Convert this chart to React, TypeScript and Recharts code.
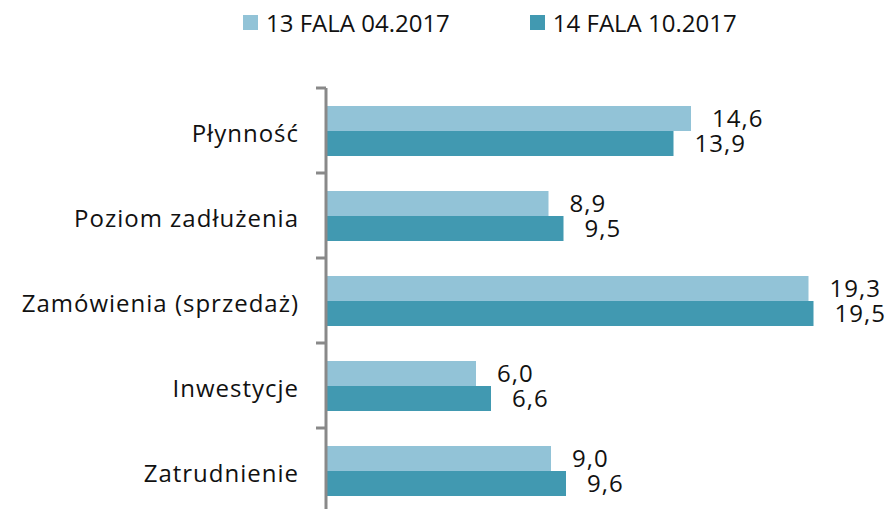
import { BarChart, Bar, XAxis, YAxis, Legend, LabelList } from 'recharts';

const categories = ['Płynność', 'Poziom zadłużenia', 'Zamówienia (sprzedaż)', 'Inwestycje', 'Zatrudnienie'];
const wave13 = [14.6, 8.9, 19.3, 6.0, 9.0];
const wave14 = [13.9, 9.5, 19.5, 6.6, 9.6];
const seriesNames = ['13 FALA 04.2017', '14 FALA 10.2017'];

const LIGHT = '#92C3D7';
const DARK = '#4199B1';
const AXIS = '#898989';
const FONT = '"Open Sans", sans-serif';

const data = categories.map((name, i) => ({ name, w13: wave13[i], w14: wave14[i] }));

const fmt = (v: number) => v.toFixed(1).replace('.', ',');

// category label plus the tick marks that sit on the band boundaries
function CatTick(props: any) {
  const { x, y, payload, index } = props;
  const half = payload && typeof payload.offset === 'number' && payload.offset > 0 ? payload.offset : 42.5;
  const axisX = x + 27;
  return (
    <g>
      <line x1={axisX - 10} x2={axisX} y1={y - half} y2={y - half} stroke={AXIS} strokeWidth={3} />
      {index === categories.length - 1 && (
        <line x1={axisX - 10} x2={axisX} y1={y + half} y2={y + half} stroke={AXIS} strokeWidth={3} />
      )}
      <text x={x} y={y} dy={11} textAnchor="end" fill="#111" fontSize={24} fontFamily={FONT} letterSpacing={1}>
        {payload.value}
      </text>
    </g>
  );
}

function LegendBox({ payload }: any) {
  return (
    <div style={{ display: 'flex', fontFamily: FONT, fontSize: 24, color: '#111', whiteSpace: 'nowrap' }}>
      {(payload || []).map((p: any, i: number) => (
        <div key={i} style={{ display: 'flex', alignItems: 'center', marginRight: i === 0 ? 80 : 0 }}>
          <span style={{ width: 15, height: 15, background: p.color, display: 'inline-block', marginRight: 8 }} />
          <span>{p.value}</span>
        </div>
      ))}
    </div>
  );
}

export default function App() {
  return (
    <div style={{ position: 'absolute', left: 0, top: 0, width: 890, height: 509, overflow: 'hidden', background: '#fff' }}>
      <BarChart
        width={890}
        height={513}
        data={data}
        layout="vertical"
        margin={{ top: 88, right: 14, bottom: 0, left: 0 }}
        barGap={0}
        barSize={25}
      >
        <XAxis type="number" domain={[0, 22]} hide />
        <YAxis
          type="category"
          dataKey="name"
          width={326}
          axisLine={{ stroke: AXIS, strokeWidth: 3 }}
          tickLine={false}
          tickSize={0}
          tickMargin={27}
          tick={<CatTick />}
        />
        <Legend
          layout="horizontal"
          verticalAlign="middle"
          align="center"
          wrapperStyle={{ top: 6, left: 243, width: 'auto' }}
          content={<LegendBox />}
        />
        <Bar dataKey="w13" name={seriesNames[0]} fill={LIGHT} isAnimationActive={false}>
          <LabelList dataKey="w13" position="right" offset={21} formatter={fmt} fill="#111" fontSize={24} fontFamily={FONT} letterSpacing={1} />
        </Bar>
        <Bar dataKey="w14" name={seriesNames[1]} fill={DARK} isAnimationActive={false}>
          <LabelList dataKey="w14" position="right" offset={21} formatter={fmt} fill="#111" fontSize={24} fontFamily={FONT} letterSpacing={1} />
        </Bar>
      </BarChart>
    </div>
  );
}
